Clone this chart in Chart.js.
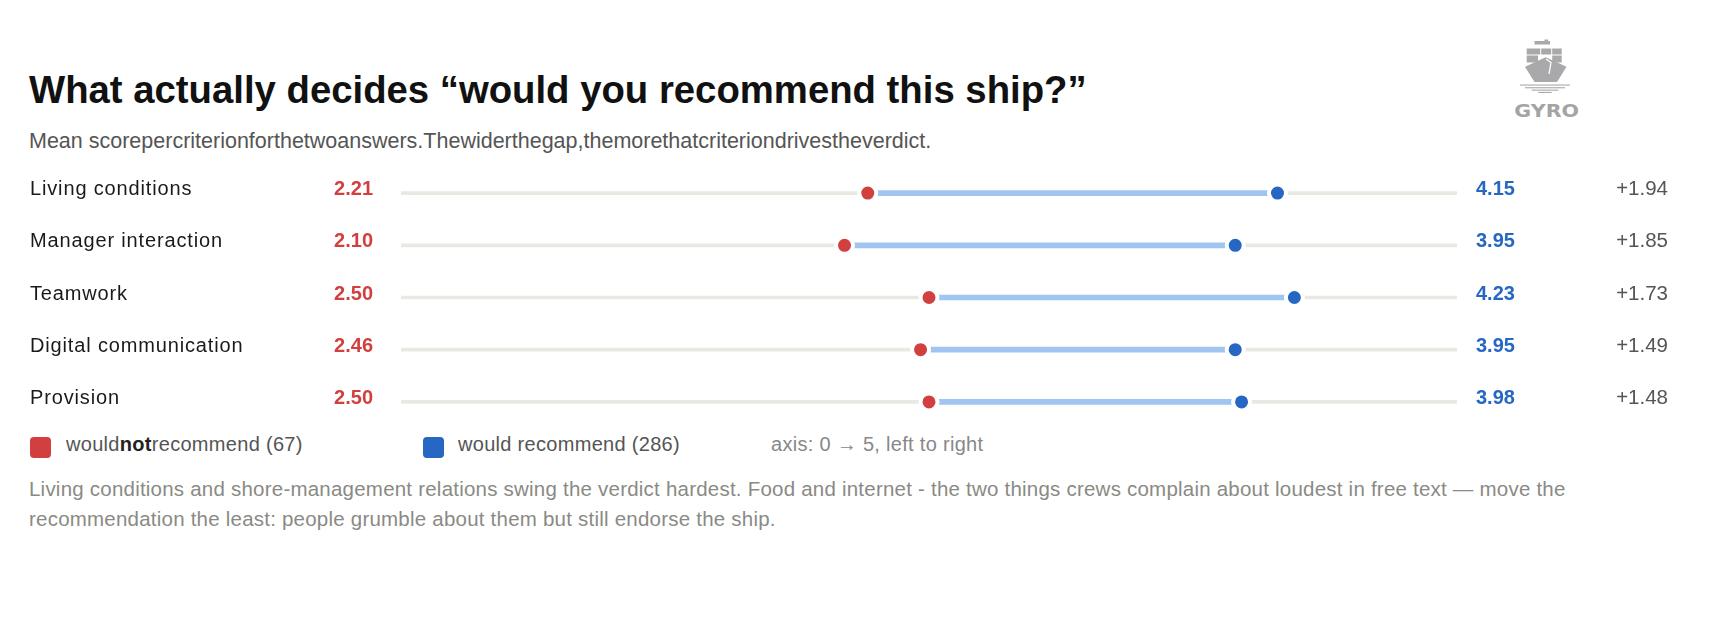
<!DOCTYPE html>
<html>
<head>
<meta charset="utf-8">
<script src="https://cdn.jsdelivr.net/npm/chart.js@4.4.1/dist/chart.umd.min.js"></script>
<style>
  body { margin: 0; background: #fff; font-family: "Liberation Sans", Arial, sans-serif; }
  #page { position: relative; width: 1712px; height: 629px; overflow: hidden; }
  .abs { position: absolute; white-space: nowrap; }
  #title { left: 29px; top: 71px; font-size: 38.3px; line-height: 38px; font-weight: bold; color: #111; }
  #subtitle { left: 29px; top: 131px; font-size: 21.5px; line-height: 21.5px; color: #555; }
  #chartbox { position: absolute; left: 0; top: 167px; width: 1712px; height: 261px; }
  .sw { position: absolute; width: 21px; height: 21px; border-radius: 4px; top: 437px; }
  .lg { top: 434px; font-size: 20px; line-height: 20px; color: #555; letter-spacing: 0.3px; }
  .lg b { color: #222; }
  #note { left: 29px; top: 474px; font-size: 20.5px; line-height: 29.5px; color: #8a8a84; letter-spacing: 0.22px; }
</style>
</head>
<body>
<div id="page">
  <div id="title" class="abs">What actually decides “would you recommend this ship?”</div>
  <div id="subtitle" class="abs">Mean scorepercriterionforthetwoanswers.Thewiderthegap,themorethatcriteriondrivestheverdict.</div>

  <svg class="abs" style="left:1505px;top:35px" width="80" height="90" viewBox="0 0 80 90">
    <g fill="#a9a9ab">
      <rect x="39.5" y="4.5" width="3.5" height="2.5"/>
      <rect x="29.5" y="6" width="15.5" height="3.5"/>
      <rect x="21.7" y="13.5" width="13.5" height="6"/>
      <rect x="36.2" y="13.5" width="10" height="6"/>
      <rect x="47.2" y="13.5" width="9.5" height="6"/>
      <rect x="21.7" y="20.5" width="11.3" height="7"/>
      <rect x="47.2" y="20.5" width="9.5" height="7"/>
      <polygon points="20,31.7 40.7,22.2 61.5,31.7 52,47 29.5,47"/>
      <rect x="15" y="49.5" width="50" height="1.1"/>
      <rect x="20" y="52.2" width="40" height="1.1"/>
      <rect x="26.7" y="54.6" width="26.6" height="1.1"/>
      <rect x="33.3" y="56.9" width="13.4" height="1.1"/>
    </g>
    <polyline points="41,24 46,27.5 44,39" fill="none" stroke="#fff" stroke-width="1.3"/>
    <text x="9.3" y="81.7" textLength="64.7" lengthAdjust="spacingAndGlyphs" font-family="DejaVu Sans, Liberation Sans, Arial" font-weight="bold" font-size="17" fill="#a4a4a6">GYRO</text>
  </svg>

  <div id="chartbox"><canvas id="dumbbell"></canvas></div>

  <div class="sw" style="left:30px;background:#d13f3f"></div>
  <div class="abs lg" style="left:66px">would<b>not</b>recommend (67)</div>
  <div class="sw" style="left:423px;background:#2567c2"></div>
  <div class="abs lg" style="left:458px">would recommend (286)</div>
  <div class="abs lg" style="left:771px;color:#888">axis: 0 → 5, left to right</div>

  <div id="note" class="abs">Living conditions and shore-management relations swing the verdict hardest. Food and internet - the two things crews complain about loudest in free text — move the<br>recommendation the least: people grumble about them but still endorse the ship.</div>
</div>

<script>
const criteria = ['Living conditions', 'Manager interaction', 'Teamwork', 'Digital communication', 'Provision'];
const notRecommend = [2.21, 2.10, 2.50, 2.46, 2.50];
const recommend = [4.15, 3.95, 4.23, 3.95, 3.98];
const gaps = ['+1.94', '+1.85', '+1.73', '+1.49', '+1.48'];
const axisMin = 0;
const axisMax = 5;

const RED = '#d13f3f';
const BLUE = '#2567c2';

// row texts drawn against the y scale
const rowText = {
  id: 'rowText',
  afterDatasetsDraw(chart) {
    const ctx = chart.ctx;
    const y = chart.scales.y;
    ctx.save();
    ctx.textBaseline = 'middle';
    criteria.forEach(function(name, i) {
      const py = y.getPixelForValue(i) - 3.5;
      ctx.textAlign = 'left';
      ctx.fillStyle = '#1a1a1a';
      ctx.font = '20px "Liberation Sans", Arial, sans-serif';
      ctx.letterSpacing = '0.85px';
      ctx.fillText(name, 30, py);
      ctx.letterSpacing = '0px';

      ctx.font = 'bold 20px "Liberation Sans", Arial, sans-serif';
      ctx.textAlign = 'right';
      ctx.fillStyle = RED;
      ctx.fillText(notRecommend[i].toFixed(2), 373, py);

      ctx.textAlign = 'left';
      ctx.fillStyle = BLUE;
      ctx.fillText(recommend[i].toFixed(2), 1476, py);

      ctx.font = '20.5px "Liberation Sans", Arial, sans-serif';
      ctx.textAlign = 'right';
      ctx.fillStyle = '#555';
      ctx.fillText(gaps[i], 1668, py);
    });
    ctx.restore();
  }
};

const dotStyle = {
  type: 'scatter',
  pointRadius: 8.5,
  pointHoverRadius: 8.5,
  pointBorderColor: '#fff',
  pointBorderWidth: 4,
  order: 0
};

new Chart(document.getElementById('dumbbell'), {
  type: 'bar',
  data: {
    labels: criteria,
    datasets: [
      Object.assign({}, dotStyle, {
        label: 'would not recommend',
        data: criteria.map(function(c, i) { return { x: notRecommend[i], y: c }; }),
        backgroundColor: RED
      }),
      Object.assign({}, dotStyle, {
        label: 'would recommend',
        data: criteria.map(function(c, i) { return { x: recommend[i], y: c }; }),
        backgroundColor: BLUE
      }),
      {
        label: 'gap',
        data: criteria.map(function(c, i) { return [notRecommend[i], recommend[i]]; }),
        backgroundColor: '#a0c5f1',
        barThickness: 5,
        grouped: false,
        order: 1
      },
      {
        label: 'track',
        data: criteria.map(function() { return [axisMin, axisMax]; }),
        backgroundColor: '#e9e9e4',
        barThickness: 3,
        grouped: false,
        order: 2
      }
    ]
  },
  options: {
    indexAxis: 'y',
    responsive: true,
    maintainAspectRatio: false,
    animation: false,
    layout: { autoPadding: false, padding: { left: 401, right: 255, top: 0, bottom: 0 } },
    plugins: { legend: { display: false }, tooltip: { enabled: false } },
    scales: {
      x: { type: 'linear', min: axisMin, max: axisMax, display: false },
      y: { type: 'category', labels: criteria, offset: true, display: false }
    }
  },
  plugins: [rowText]
});
</script>
</body>
</html>
